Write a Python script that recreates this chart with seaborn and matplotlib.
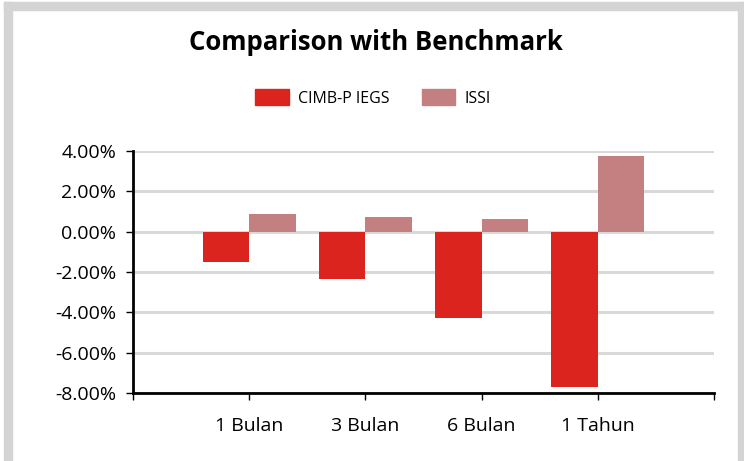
import pandas as pd
import matplotlib.pyplot as plt
import seaborn as sns
from matplotlib.patches import Rectangle
from matplotlib.ticker import FuncFormatter

# Data (returns in %)
periods = ['1 Bulan', '3 Bulan', '6 Bulan', '1 Tahun']
fund_values = [-1.50, -2.33, -4.27, -7.69]
benchmark_values = [0.89, 0.71, 0.64, 3.75]
series_names = ['CIMB-P IEGS', 'ISSI']
colors = ['#DC241F', '#C48080']


def main():
    df = pd.DataFrame({
        'Period': periods * 2,
        'Return': fund_values + benchmark_values,
        'Series': [series_names[0]] * 4 + [series_names[1]] * 4,
    })

    sns.set_style('white')
    plt.rcParams['font.family'] = ['Open Sans', 'DejaVu Sans']
    plt.rcParams['text.color'] = 'black'

    fig = plt.figure(figsize=(7.44, 4.61), dpi=100)
    ax = fig.add_axes([133 / 744, 1 - 393 / 461, (714 - 133) / 744, (393 - 151) / 461])

    sns.barplot(data=df, x='Period', y='Return', hue='Series', order=periods,
                hue_order=series_names, palette=colors, width=0.8,
                saturation=1, edgecolor='none', ax=ax, legend=False)

    ax.set_ylim(-8, 4)
    ax.set_yticks(range(-8, 5, 2))
    ax.yaxis.set_major_formatter(FuncFormatter(lambda v, _: f'{v:.2f}%'))
    ax.set_xlim(-1, 4)
    ax.set_xticks(range(-1, 5))
    ax.set_xticklabels([''] + periods + [''])
    ax.set_xlabel('')
    ax.set_ylabel('')

    ax.grid(axis='y', color='#d9d9d9', linewidth=2.2)
    ax.set_axisbelow(True)
    for side in ['top', 'right']:
        ax.spines[side].set_visible(False)
    for side in ['left', 'bottom']:
        ax.spines[side].set_linewidth(2)
        ax.spines[side].set_color('black')
    ax.tick_params(axis='y', length=5, width=1, labelsize=14, left=True,
                   pad=7, colors='black')
    ax.tick_params(axis='x', length=5, width=1, labelsize=14, bottom=True,
                   pad=12, colors='black')

    fig.text(376 / 744, 1 - 43 / 461, 'Comparison with Benchmark', ha='center',
             va='center', fontsize=18.5, fontweight='bold', color='black')

    # legend
    handles = [Rectangle((0, 0), 1, 1, color=c) for c in colors]
    fig.legend(handles, series_names, loc='center', ncol=2,
               bbox_to_anchor=(373 / 744, 1 - 98 / 461), frameon=False,
               fontsize=11.5, handlelength=2.1, handleheight=1.1,
               columnspacing=2.0, handletextpad=0.6, labelcolor='black')

    # grey frame around the chart
    gray = '#d4d4d4'
    fig.patches.append(Rectangle((4 / 744, 0), 8 / 744, 1 - 2 / 461,
                                 transform=fig.transFigure, color=gray))
    fig.patches.append(Rectangle((4 / 744, 1 - 10 / 461), 740 / 744, 8 / 461,
                                 transform=fig.transFigure, color=gray))
    fig.patches.append(Rectangle((738 / 744, 0), 6 / 744, 1 - 2 / 461,
                                 transform=fig.transFigure, color=gray))

    fig.savefig('out.png', dpi=100)
    plt.close(fig)


if __name__ == '__main__':
    main()
